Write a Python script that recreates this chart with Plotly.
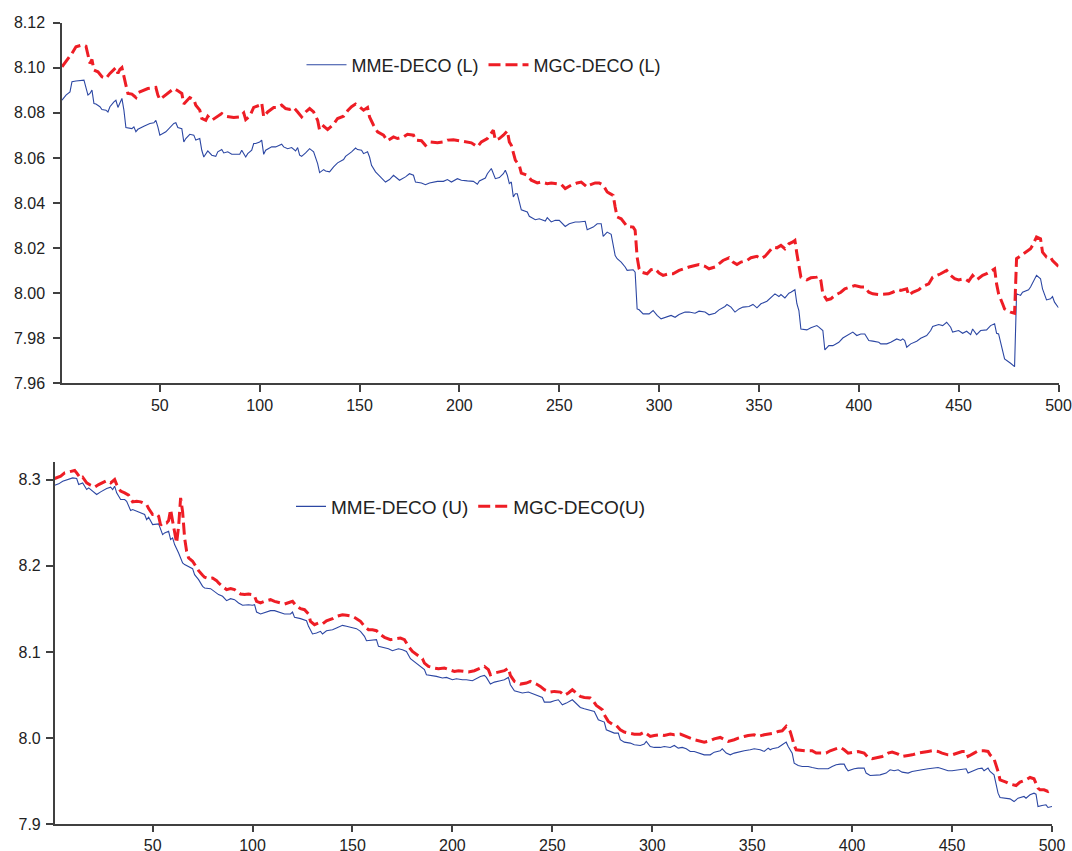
import plotly.graph_objects as go

# ---------------- data ----------------
# Top panel: MME-DECO (L)
top_mme_x = [1,3,5,6,8,11,12,14,15,16,17,18,20,21,23,24,25,27,28,29,30,31,32,33,36,37,38,39,42,45,47,48,49,50,53,57,58,59,61,62,63,65,67,68,70,71,72,73,74,76,78,79,81,82,84,86,88,90,91,93,94,96,97,98,100,101,102,103,106,108,111,112,114,116,118,119,120,
             121,123,125,127,129,130,132,133,135,137,139,142,143,146,148,149,151,152,154,155,156,158,160,163,165,167,170,173,175,177,178,181,183,185,189,192,194,196,199,201,204,207,209,210,213,214,216,218,220,222,223,224,225,226,227,228,229,231,234,235,238,240,243,244,246,248,250,
             253,255,258,260,263,264,267,269,271,272,274,276,277,278,279,281,283,284,287,288,289,290,292,295,297,299,301,304,306,308,310,313,315,318,320,323,325,328,330,333,334,336,338,340,342,345,347,349,351,354,356,358,360,361,363,365,366,368,369,370,371,374,376,379,380,382,383,385,387,390,392,395,397,399,401,403,405,407,410,411,414,416,419,421,422,423,424,426,429,431,434,436,437,440,442,444,446,447,450,452,454,456,457,459,461,464,466,468,469,470,472,473,476,478,479,481,482,485,486,488,489,491,492,494,496,497,498,500]
top_mme_y = [8.0856,8.0879,8.0893,8.0938,8.0941,8.0945,8.0945,8.0879,8.0886,8.0901,8.0841,8.0839,8.0827,8.0815,8.0812,8.0804,8.0827,8.0849,8.0856,8.0824,8.0844,8.0864,8.0812,8.0735,8.0730,8.0738,8.0716,8.0727,8.0741,8.0753,8.0756,8.0767,8.0738,8.0701,8.0716,8.0753,8.0756,8.0735,8.0730,8.0671,8.0686,8.0705,8.0701,8.0679,8.0686,8.0634,8.0604,8.0619,8.0631,8.0612,8.0607,8.0627,8.0637,8.0622,8.0627,8.0616,8.0616,8.0616,8.0634,8.0604,8.0619,8.0634,8.0664,8.0664,8.0671,8.0679,8.0616,8.0634,8.0649,8.0649,8.0661,8.0649,8.0641,8.0646,8.0631,8.0646,8.0612,
             8.0607,8.0622,8.0641,8.0627,8.0575,8.0535,8.0548,8.0542,8.0538,8.0560,8.0578,8.0593,8.0607,8.0627,8.0644,8.0637,8.0634,8.0619,8.0627,8.0604,8.0567,8.0538,8.0519,8.0493,8.0504,8.0523,8.0501,8.0516,8.0530,8.0523,8.0493,8.0489,8.0481,8.0489,8.0496,8.0496,8.0504,8.0493,8.0508,8.0501,8.0498,8.0496,8.0483,8.0498,8.0511,8.0530,8.0553,8.0508,8.0513,8.0530,8.0545,8.0523,8.0486,8.0493,8.0427,8.0441,8.0441,8.0370,8.0360,8.0341,8.0326,8.0330,8.0320,8.0335,8.0316,8.0323,8.0323,
             8.0296,8.0308,8.0316,8.0316,8.0319,8.0281,8.0293,8.0308,8.0308,8.0252,8.0271,8.0261,8.0219,8.0167,8.0153,8.0138,8.0116,8.0101,8.0104,8.0093,7.9930,7.9926,7.9908,7.9908,7.9923,7.9901,7.9886,7.9893,7.9901,7.9893,7.9905,7.9916,7.9916,7.9911,7.9920,7.9916,7.9904,7.9911,7.9926,7.9941,7.9950,7.9938,7.9916,7.9930,7.9938,7.9941,7.9950,7.9935,7.9953,7.9964,7.9979,7.9997,7.9985,7.9994,7.9979,8.0000,8.0004,8.0015,7.9953,7.9923,7.9841,7.9837,7.9846,7.9856,7.9849,7.9834,7.9748,7.9767,7.9767,7.9782,7.9801,7.9819,7.9827,7.9812,7.9819,7.9819,7.9790,7.9787,7.9782,7.9775,7.9775,7.9782,7.9797,7.9790,7.9797,7.9790,7.9760,7.9775,7.9787,7.9800,7.9812,7.9834,7.9852,7.9861,7.9856,7.9871,7.9849,7.9827,7.9834,7.9822,7.9831,7.9816,7.9841,7.9816,7.9834,7.9837,7.9856,7.9864,7.9822,7.9819,7.9738,7.9708,7.9689,7.9674,7.9997,7.9990,8.0004,8.0015,8.0027,8.0064,8.0079,8.0064,8.0019,7.9970,7.9975,7.9985,7.9960,7.9935]

# Top panel: MGC-DECO (L)
top_mgc_x = [1,3,6,8,11,13,14,15,16,17,19,21,23,25,28,29,30,31,33,34,36,38,39,42,44,48,49,50,53,57,59,61,62,63,65,67,68,70,71,73,74,76,78,81,83,87,90,92,93,95,97,100,101,102,104,107,109,111,113,115,117,118,119,
             121,123,125,127,129,130,132,134,137,139,142,144,146,148,150,152,154,155,157,159,162,164,167,169,172,174,177,178,181,183,185,189,192,194,197,200,203,206,209,211,214,216,217,218,220,222,224,225,226,228,230,231,234,236,239,241,244,246,249,
             251,253,256,259,261,264,265,268,270,272,274,275,277,278,279,281,283,284,287,288,289,290,291,294,296,298,300,302,305,307,310,312,315,318,320,323,325,328,330,332,335,337,339,341,344,346,349,351,353,355,357,359,361,363,365,367,368,369,370,371,374,376,379,380,381,382,384,386,388,391,393,396,398,401,403,405,407,410,412,415,417,420,421,424,425,427,430,432,435,437,441,444,446,448,450,453,455,457,459,462,464,467,468,469,470,472,473,476,478,479,481,483,486,487,489,491,492,494,496,497,500]
top_mgc_y = [8.1004,8.1027,8.1064,8.1093,8.1101,8.1096,8.1056,8.1019,8.1037,8.0990,8.0982,8.0960,8.0953,8.0975,8.1001,8.0975,8.0993,8.1001,8.0923,8.0886,8.0883,8.0868,8.0889,8.0901,8.0908,8.0913,8.0879,8.0859,8.0879,8.0908,8.0898,8.0886,8.0839,8.0849,8.0868,8.0859,8.0834,8.0812,8.0775,8.0767,8.0785,8.0767,8.0779,8.0797,8.0785,8.0779,8.0782,8.0800,8.0770,8.0785,8.0824,8.0834,8.0844,8.0782,8.0804,8.0824,8.0824,8.0834,8.0819,8.0815,8.0824,8.0812,8.0804,
             8.0782,8.0804,8.0819,8.0804,8.0767,8.0723,8.0741,8.0726,8.0750,8.0775,8.0785,8.0809,8.0827,8.0839,8.0827,8.0812,8.0824,8.0782,8.0745,8.0716,8.0701,8.0676,8.0693,8.0686,8.0693,8.0705,8.0701,8.0679,8.0676,8.0656,8.0671,8.0667,8.0671,8.0679,8.0681,8.0676,8.0671,8.0667,8.0649,8.0671,8.0686,8.0711,8.0723,8.0679,8.0686,8.0701,8.0720,8.0671,8.0656,8.0590,8.0567,8.0533,8.0523,8.0501,8.0489,8.0493,8.0486,8.0489,8.0486,
             8.0483,8.0464,8.0479,8.0489,8.0493,8.0471,8.0479,8.0489,8.0489,8.0479,8.0449,8.0444,8.0434,8.0382,8.0338,8.0330,8.0308,8.0296,8.0293,8.0279,8.0160,8.0108,8.0093,8.0086,8.0104,8.0108,8.0089,8.0079,8.0086,8.0086,8.0101,8.0108,8.0116,8.0123,8.0127,8.0119,8.0108,8.0116,8.0130,8.0145,8.0157,8.0138,8.0127,8.0138,8.0145,8.0157,8.0163,8.0153,8.0163,8.0182,8.0204,8.0201,8.0212,8.0197,8.0219,8.0227,8.0234,8.0175,8.0123,8.0071,8.0059,8.0068,8.0071,8.0074,8.0056,7.9997,7.9970,7.9975,7.9990,8.0004,8.0019,8.0030,8.0034,8.0027,8.0027,8.0004,7.9997,7.9994,7.9994,7.9997,8.0004,8.0015,8.0012,8.0019,7.9990,8.0004,8.0015,8.0030,8.0041,8.0071,8.0086,8.0101,8.0079,8.0064,8.0059,8.0064,8.0053,8.0079,8.0059,8.0079,8.0086,8.0104,8.0108,8.0041,7.9997,7.9953,7.9930,7.9916,7.9911,8.0153,8.0167,8.0178,8.0197,8.0212,8.0249,8.0241,8.0182,8.0160,8.0160,8.0145,8.0119]

# Bottom panel: MME-DECO (U)
bot_mme_x = [1,3,5,8,10,12,13,15,17,18,20,22,24,26,27,29,30,31,32,34,36,37,39,40,42,44,46,47,48,50,51,53,55,56,58,59,60,61,63,65,66,68,70,71,73,75,76,79,81,83,85,87,89,91,93,95,98,100,101,102,104,106,109,111,114,116,119,120,121,123,124,127,128,130,132,134,135,137,140,142,145,147,150,152,154,156,157,160,162,163,165,168,170,173,175,177,179,181,183,186,187,190,192,195,197,200,
             202,205,207,210,212,214,216,217,219,221,224,226,228,229,231,233,235,238,240,242,245,246,249,251,253,255,257,260,262,264,266,269,271,273,275,276,277,279,281,283,284,286,289,291,294,296,297,299,301,304,306,309,311,313,315,317,319,321,324,326,329,331,334,335,337,339,341,344,346,349,351,354,356,358,359,360,363,365,367,368,370,371,373,375,378,380,383,385,388,390,392,394,396,397,398,401,403,406,407,409,412,414,417,419,421,423,425,428,430,433,435,438,440,443,445,448,450,453,455,457,458,460,463,465,466,468,469,471,472,473,474,477,479,481,483,486,487,489,491,492,493,495,497,498,500]
bot_mme_y = [8.2934,8.2950,8.2981,8.3000,8.3019,8.3012,8.2942,8.2961,8.2884,8.2903,8.2865,8.2826,8.2857,8.2884,8.2895,8.2911,8.2884,8.2923,8.2845,8.2768,8.2768,8.2748,8.2640,8.2652,8.2632,8.2613,8.2594,8.2535,8.2563,8.2477,8.2477,8.2485,8.2361,8.2381,8.2400,8.2303,8.2323,8.2245,8.2148,8.2032,8.2013,8.1994,8.1966,8.1897,8.1839,8.1761,8.1742,8.1734,8.1703,8.1665,8.1645,8.1595,8.1618,8.1606,8.1568,8.1541,8.1548,8.1541,8.1548,8.1463,8.1440,8.1452,8.1479,8.1479,8.1452,8.1440,8.1440,8.1463,8.1401,8.1394,8.1386,8.1362,8.1297,8.1208,8.1219,8.1239,8.1208,8.1246,8.1258,8.1278,8.1308,8.1297,8.1285,8.1270,8.1239,8.1181,8.1130,8.1142,8.1142,8.1064,8.1053,8.1037,8.1014,8.1037,8.1026,8.1006,8.0921,8.0883,8.0852,8.0794,8.0735,8.0728,8.0716,8.0697,8.0704,8.0677,
             8.0689,8.0677,8.0677,8.0666,8.0689,8.0716,8.0728,8.0704,8.0627,8.0650,8.0666,8.0677,8.0704,8.0619,8.0550,8.0534,8.0523,8.0534,8.0514,8.0496,8.0472,8.0418,8.0418,8.0434,8.0445,8.0387,8.0406,8.0445,8.0406,8.0356,8.0341,8.0317,8.0310,8.0213,8.0194,8.0186,8.0097,8.0077,8.0058,8.0058,7.9981,7.9953,7.9942,7.9923,7.9915,7.9930,7.9961,7.9903,7.9892,7.9892,7.9903,7.9892,7.9915,7.9884,7.9892,7.9876,7.9845,7.9845,7.9826,7.9806,7.9806,7.9837,7.9853,7.9876,7.9826,7.9806,7.9826,7.9845,7.9853,7.9865,7.9876,7.9865,7.9845,7.9884,7.9865,7.9876,7.9892,7.9923,7.9953,7.9903,7.9826,7.9710,7.9682,7.9671,7.9671,7.9659,7.9644,7.9644,7.9644,7.9671,7.9690,7.9698,7.9698,7.9652,7.9621,7.9644,7.9652,7.9652,7.9594,7.9567,7.9567,7.9574,7.9594,7.9632,7.9621,7.9632,7.9605,7.9594,7.9613,7.9621,7.9632,7.9644,7.9652,7.9659,7.9644,7.9621,7.9621,7.9632,7.9632,7.9644,7.9594,7.9613,7.9644,7.9652,7.9621,7.9652,7.9613,7.9574,7.9477,7.9361,7.9311,7.9303,7.9295,7.9264,7.9303,7.9323,7.9303,7.9342,7.9361,7.9350,7.9206,7.9218,7.9226,7.9195,7.9206]

# Bottom panel: MGC-DECO (U)
bot_mgc_x = [1,4,6,9,11,12,14,15,17,19,21,23,26,27,29,31,32,34,36,38,40,42,44,46,47,48,50,51,52,53,54,55,57,58,59,60,61,62,63,64,65,66,67,68,70,71,73,75,76,78,80,82,83,85,87,89,91,94,96,98,100,101,102,104,106,109,111,114,116,119,120,122,124,126,128,129,131,133,135,137,140,142,145,147,150,152,154,156,158,160,162,164,166,169,171,174,176,178,180,182,185,186,188,191,193,196,198,
             201,203,206,208,211,213,215,216,218,219,221,224,226,228,229,231,234,237,239,242,244,246,249,251,254,256,258,260,262,264,266,269,270,272,275,276,278,280,282,284,286,289,291,294,296,299,301,304,306,309,311,314,316,319,321,324,326,329,331,334,336,338,341,343,346,348,351,353,356,358,361,363,365,367,369,370,371,372,375,377,380,382,384,387,389,392,394,396,398,401,403,406,408,410,413,415,418,420,423,425,428,430,433,435,438,440,443,445,448,450,453,455,457,458,461,463,466,468,469,471,473,474,477,479,482,484,487,489,491,493,494,496,498,499,500]
bot_mgc_y = [8.3012,8.3039,8.3077,8.3089,8.3105,8.3077,8.3012,8.3027,8.2961,8.2934,8.2911,8.2942,8.2973,8.2988,8.2961,8.3000,8.2942,8.2865,8.2845,8.2818,8.2741,8.2748,8.2741,8.2717,8.2710,8.2663,8.2594,8.2594,8.2601,8.2574,8.2470,8.2497,8.2497,8.2524,8.2652,8.2516,8.2408,8.2264,8.2458,8.2787,8.2625,8.2323,8.2168,8.2090,8.2052,8.2013,8.1943,8.1889,8.1866,8.1850,8.1858,8.1827,8.1800,8.1761,8.1723,8.1734,8.1723,8.1672,8.1665,8.1672,8.1665,8.1645,8.1587,8.1568,8.1587,8.1606,8.1587,8.1568,8.1556,8.1579,8.1587,8.1529,8.1502,8.1490,8.1440,8.1355,8.1316,8.1335,8.1324,8.1362,8.1386,8.1413,8.1432,8.1425,8.1413,8.1386,8.1355,8.1297,8.1258,8.1258,8.1246,8.1200,8.1169,8.1142,8.1153,8.1161,8.1142,8.1064,8.1006,8.0968,8.0921,8.0871,8.0832,8.0813,8.0805,8.0813,8.0794,
             8.0774,8.0782,8.0774,8.0767,8.0782,8.0805,8.0821,8.0832,8.0794,8.0735,8.0755,8.0774,8.0782,8.0813,8.0728,8.0658,8.0627,8.0639,8.0658,8.0627,8.0600,8.0561,8.0534,8.0542,8.0534,8.0496,8.0523,8.0561,8.0523,8.0484,8.0472,8.0465,8.0445,8.0379,8.0329,8.0271,8.0194,8.0163,8.0147,8.0097,8.0070,8.0058,8.0046,8.0046,8.0070,8.0019,8.0031,8.0039,8.0031,8.0046,8.0039,8.0046,8.0031,8.0000,7.9981,7.9969,7.9953,7.9969,7.9992,8.0008,7.9981,7.9961,7.9981,8.0000,8.0019,8.0031,8.0039,8.0019,8.0039,8.0046,8.0058,8.0077,8.0085,8.0136,8.0077,8.0000,7.9915,7.9865,7.9853,7.9853,7.9853,7.9826,7.9826,7.9826,7.9853,7.9876,7.9892,7.9865,7.9826,7.9837,7.9845,7.9826,7.9775,7.9760,7.9775,7.9787,7.9826,7.9837,7.9814,7.9787,7.9799,7.9806,7.9826,7.9837,7.9845,7.9853,7.9845,7.9826,7.9806,7.9806,7.9826,7.9845,7.9845,7.9787,7.9826,7.9853,7.9853,7.9845,7.9806,7.9760,7.9613,7.9516,7.9489,7.9466,7.9450,7.9489,7.9516,7.9543,7.9528,7.9419,7.9400,7.9400,7.9381,7.9400,7.9388]

x_ticks = [50, 100, 150, 200, 250, 300, 350, 400, 450, 500]
top_y_ticks = [7.96, 7.98, 8.00, 8.02, 8.04, 8.06, 8.08, 8.10, 8.12]
bot_y_ticks = [7.9, 8.0, 8.1, 8.2, 8.3]
names = ["MME-DECO (L)", "MGC-DECO (L)", "MME-DECO (U)", "MGC-DECO(U)"]

# ---------------- figure ----------------
W, H = 1072, 851

def fx(px):
    return px / W

def fy(py):
    return 1 - py / H

BLUE = "#2c47a3"
RED = "#ee1d25"
AXC = "#404040"
FONT = "Liberation Sans, Arial, sans-serif"

fig = go.Figure()
fig.add_trace(go.Scatter(x=top_mme_x, y=top_mme_y, mode="lines", name=names[0],
                         line=dict(color=BLUE, width=1.1), xaxis="x", yaxis="y", legend="legend"))
fig.add_trace(go.Scatter(x=top_mgc_x, y=top_mgc_y, mode="lines", name=names[1],
                         line=dict(color=RED, width=3, dash="12px,5px"), xaxis="x", yaxis="y", legend="legend"))
fig.add_trace(go.Scatter(x=bot_mme_x, y=bot_mme_y, mode="lines", name=names[2],
                         line=dict(color=BLUE, width=1.1), xaxis="x2", yaxis="y2", legend="legend2"))
fig.add_trace(go.Scatter(x=bot_mgc_x, y=bot_mgc_y, mode="lines", name=names[3],
                         line=dict(color=RED, width=3, dash="12px,5px"), xaxis="x2", yaxis="y2", legend="legend2"))

def ax(**kw):
    d = dict(showline=True, linecolor=AXC, linewidth=1.5, ticks="outside", ticklen=7,
             tickwidth=1.5, tickcolor=AXC, showgrid=False, zeroline=False, automargin=False,
             ticklabeloverflow="allow",
             tickfont=dict(family=FONT, size=16, color="#222222"), fixedrange=True)
    d.update(kw)
    return d

fig.update_layout(
    margin=dict(l=0, r=0, t=0, b=0, pad=0, autoexpand=False),
    paper_bgcolor="white", plot_bgcolor="white",
    font=dict(family=FONT, color="#222222"),
    xaxis=ax(domain=[fx(62), fx(1058.5)], range=[1, 500], tickvals=x_ticks, anchor="y"),
    yaxis=ax(domain=[fy(383.3), fy(22.7)], range=[7.96, 8.12], tickvals=top_y_ticks,
             tickformat=".2f", anchor="x", ticklabelstandoff=5),
    xaxis2=ax(domain=[fx(54.7), fx(1052)], range=[1, 500], tickvals=x_ticks, anchor="y2",
              ticklen=6),
    yaxis2=ax(domain=[fy(824.3), fy(462.3)], range=[7.9, 8.32], tickvals=bot_y_ticks,
              tickformat=".1f", anchor="x2", ticklabelstandoff=2),
    legend=dict(orientation="h", x=fx(301.5), y=fy(65), xanchor="left", yanchor="middle",
                font=dict(family=FONT, size=18, color="#222222"), bgcolor="rgba(0,0,0,0)",
                itemwidth=40, tracegroupgap=0),
    legend2=dict(orientation="h", x=fx(291), y=fy(506.5), xanchor="left", yanchor="middle",
                 font=dict(family=FONT, size=19, color="#222222"), bgcolor="rgba(0,0,0,0)",
                 itemwidth=30, tracegroupgap=0),
    showlegend=True,
)

# The plot div is pinned to the page's top-left corner at exactly the window size,
# so the default body margin neither shifts the chart nor makes the page overflow.
fig.write_html("out.html", config={"displayModeBar": False},
               default_width="1072px",
               default_height="851px;position:absolute;left:0;top:0")
